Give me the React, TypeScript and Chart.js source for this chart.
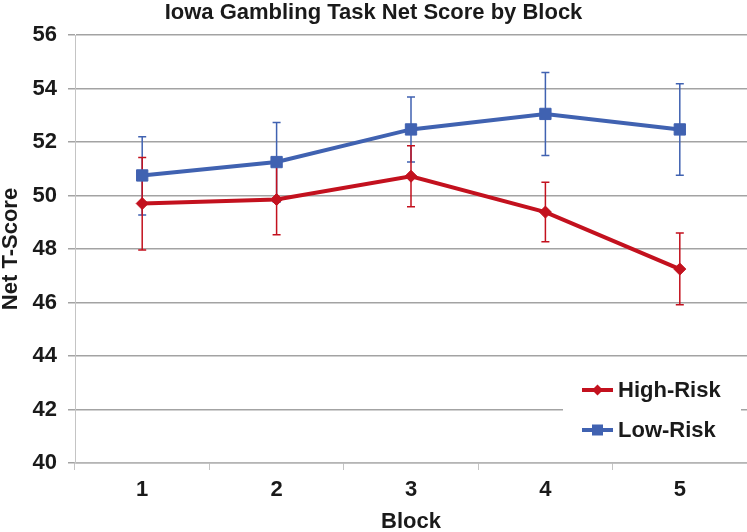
import React, { useEffect, useRef } from "react";
import { Chart, registerables } from "chart.js";

Chart.register(...registerables);

// ---- Data ----
const blocks = ["1", "2", "3", "4", "5"];
const highRisk = [49.7, 49.85, 50.72, 49.38, 47.25];
const highRiskErrLow = [47.96, 48.53, 49.58, 48.27, 45.92];
const highRiskErrHigh = [51.42, 51.15, 51.86, 50.5, 48.6];
const lowRisk = [50.75, 51.25, 52.47, 53.05, 52.47];
const lowRiskErrLow = [49.27, 49.75, 51.25, 51.5, 50.76];
const lowRiskErrHigh = [52.2, 52.73, 53.68, 54.6, 54.18];
const yTicks = [40, 42, 44, 46, 48, 50, 52, 54, 56];

const RED = "#c3111e";
const BLUE = "#4062b1";
const FONT = "'Liberation Sans', Arial, Helvetica, sans-serif";
const TEXT = "#1a1a1a";
const GRID = "#a3a3a3";

const errorBarPlugin = {
  id: "errorBars",
  beforeDatasetsDraw(chart: any) {
    const { ctx, scales } = chart;
    const x = scales.x;
    const y = scales.y;
    const sets = [
      { lo: lowRiskErrLow, hi: lowRiskErrHigh, color: BLUE },
      { lo: highRiskErrLow, hi: highRiskErrHigh, color: RED },
    ];
    ctx.save();
    ctx.lineWidth = 1.5;
    sets.forEach((s) => {
      ctx.strokeStyle = s.color;
      s.lo.forEach((lo, i) => {
        const px = x.getPixelForValue(i);
        const y1 = y.getPixelForValue(lo);
        const y2 = y.getPixelForValue(s.hi[i]);
        ctx.beginPath();
        ctx.moveTo(px, y1);
        ctx.lineTo(px, y2);
        ctx.moveTo(px - 4, y1);
        ctx.lineTo(px + 4, y1);
        ctx.moveTo(px - 4, y2);
        ctx.lineTo(px + 4, y2);
        ctx.stroke();
      });
    });
    ctx.restore();
  },
};

const boxLegendPlugin = {
  id: "boxLegend",
  afterDraw(chart: any) {
    const { ctx, chartArea } = chart;
    const right = chartArea.right;
    const bottom = chartArea.bottom;
    ctx.save();
    ctx.fillStyle = "#ffffff";
    ctx.fillRect(right - 184, bottom - 98, 178, 90);
    const entries = chart.data.datasets.map((ds: any, i: number) => ({
      label: ds.label,
      color: ds.borderColor,
      style: ds.pointStyle,
      y: bottom - 73 + i * 40,
    }));
    entries.forEach((e: any) => {
      const x0 = right - 165;
      const x1 = right - 134;
      const cx = (x0 + x1) / 2;
      ctx.strokeStyle = e.color;
      ctx.fillStyle = e.color;
      ctx.lineWidth = 4;
      ctx.beginPath();
      ctx.moveTo(x0, e.y);
      ctx.lineTo(x1, e.y);
      ctx.stroke();
      ctx.beginPath();
      if (e.style === "rectRot") {
        ctx.moveTo(cx, e.y - 5.5);
        ctx.lineTo(cx + 5.5, e.y);
        ctx.lineTo(cx, e.y + 5.5);
        ctx.lineTo(cx - 5.5, e.y);
        ctx.closePath();
      } else {
        ctx.rect(cx - 5.5, e.y - 5.5, 11, 11);
      }
      ctx.fill();
      ctx.fillStyle = TEXT;
      ctx.font = `bold 22px ${FONT}`;
      ctx.textAlign = "left";
      ctx.textBaseline = "middle";
      ctx.fillText(e.label, right - 129, e.y + 1);
    });
    ctx.restore();
  },
};

export default function App() {
  const ref = useRef<HTMLCanvasElement | null>(null);

  useEffect(() => {
    if (!ref.current) return;
    const chart = new Chart(ref.current, {
      type: "line",
      data: {
        labels: blocks,
        datasets: [
          {
            label: "High-Risk",
            data: highRisk,
            borderColor: RED,
            backgroundColor: RED,
            borderWidth: 4,
            pointStyle: "rectRot",
            pointRadius: 6,
            pointBorderWidth: 1,
            pointBackgroundColor: RED,
            pointBorderColor: RED,
            tension: 0,
          },
          {
            label: "Low-Risk",
            data: lowRisk,
            borderColor: BLUE,
            backgroundColor: BLUE,
            borderWidth: 4,
            pointStyle: "rect",
            pointRadius: 8,
            pointBorderWidth: 1,
            pointBackgroundColor: BLUE,
            pointBorderColor: BLUE,
            tension: 0,
          },
        ],
      },
      options: {
        animation: false,
        responsive: false,
        devicePixelRatio: 1,
        layout: { padding: 0, autoPadding: false },
        plugins: {
          legend: { display: false },
          tooltip: { enabled: false },
          title: {
            display: true,
            text: "Iowa Gambling Task Net Score by Block",
            color: TEXT,
            font: { family: FONT, size: 22, weight: "bold", lineHeight: 1 },
            padding: { top: 2, bottom: 11 },
          },
        },
        scales: {
          x: {
            type: "category",
            offset: true,
            grid: {
              offset: true,
              drawOnChartArea: false,
              drawTicks: true,
              tickLength: 7,
              color: "#c4c4c4",
              lineWidth: 1,
            },
            border: { display: true, color: "#b5b5b5", width: 1.5 },
            ticks: {
              color: TEXT,
              padding: 7,
              font: { family: FONT, size: 22, weight: "bold" },
            },
            title: {
              display: true,
              text: "Block",
              color: TEXT,
              padding: 0,
              font: { family: FONT, size: 22, weight: "bold", lineHeight: 0.95 },
            },
            afterFit: (scale: any) => {
              scale.height = 69;
              scale.paddingLeft = 0;
              scale.paddingRight = 0;
            },
          },
          y: {
            min: 40,
            max: 56,
            afterBuildTicks: (scale: any) => {
              scale.ticks = yTicks.map((v) => ({ value: v }));
            },
            grid: {
              color: GRID,
              lineWidth: 1.5,
              drawTicks: true,
              tickLength: 7,
            },
            border: { display: true, color: "#c4c4c4", width: 1 },
            ticks: {
              color: TEXT,
              padding: 11,
              font: { family: FONT, size: 22, weight: "bold" },
            },
            title: {
              display: true,
              text: "Net T-Score",
              color: TEXT,
              padding: 0,
              font: { family: FONT, size: 22, weight: "bold", lineHeight: 0.95 },
            },
            afterFit: (scale: any) => {
              scale.width = 75;
            },
          },
        },
      },
      plugins: [errorBarPlugin, boxLegendPlugin],
    });
    return () => chart.destroy();
  }, []);

  return (
    <div style={{ position: "fixed", left: 0, top: 0, width: 747, height: 532, background: "#fff" }}>
      <canvas ref={ref} width={747} height={532} />
    </div>
  );
}
